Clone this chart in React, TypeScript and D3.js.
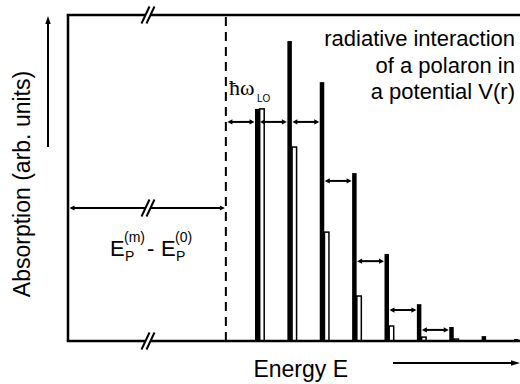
import React from "react";
import * as d3 from "d3";

// phonon replica index (n) for each line
const replicas = [0, 1, 2, 3, 4, 5, 6, 7, 8];
// thick (black) line intensities, arb. units (0..100 = frame height)
const thickValues = [71.2, 92.0, 79.4, 51.5, 26.7, 11.3, 4.3, 1.5, 0.6];
// outlined (open) line intensities
const openValues = [71.2, 59.5, 33.4, 13.8, 4.6, 1.2, 0.6, 0, 0];
// hbar*omega_LO arrows: [fromPosition, toPosition, level]
const arrowFrom = [-0.9, 0, 1, 2, 3, 4, 5];
const arrowTo = [0, 1, 2, 3, 4, 5, 6];
const arrowLevels = [67.2, 67.2, 67.2, 49.1, 24.5, 9.5, 3.4];
// position of dashed reference energy (in hbar*omega units)
const refEnergy = -0.9;
const gapLevel = 40.8;

const titleLines = ["radiative interaction", "of a polaron in", "a potential V(r)"];

const W = 520;
const H = 384;
const frameLeft = 68;
const frameTop = 15;
const frameBottom = 341;
const barW = 4.5;
const openW = 4.5;

const font = "'Liberation Sans', Arial, Helvetica, sans-serif";

function Break({ x, y }: { x: number; y: number }) {
  const h = 8.5;
  const s = 4;
  const off = 5;
  const pts = [
    [x - off / 2 - s, y + h],
    [x - off / 2 + s, y - h],
    [x + off / 2 + s, y - h],
    [x + off / 2 - s, y + h],
  ];
  return (
    <g>
      <polygon points={pts.map((p) => p.join(",")).join(" ")} fill="#fff" />
      <line x1={x - off / 2 - s} y1={y + h} x2={x - off / 2 + s} y2={y - h} stroke="#000" strokeWidth={2} />
      <line x1={x + off / 2 - s} y1={y + h} x2={x + off / 2 + s} y2={y - h} stroke="#000" strokeWidth={2} />
    </g>
  );
}

function DArrow({ x1, x2, y }: { x1: number; x2: number; y: number }) {
  const hl = 5;
  const hw = 2.6;
  return (
    <g>
      <line x1={x1 + 2} y1={y} x2={x2 - 2} y2={y} stroke="#000" strokeWidth={2} />
      <polygon points={`${x1},${y} ${x1 + hl},${y - hw} ${x1 + hl},${y + hw}`} fill="#000" />
      <polygon points={`${x2},${y} ${x2 - hl},${y - hw} ${x2 - hl},${y + hw}`} fill="#000" />
    </g>
  );
}

export default function App() {
  const x = d3.scaleLinear().domain([0, 8]).range([255, 514]);
  const y = d3.scaleLinear().domain([0, 100]).range([frameBottom, frameTop]);
  const dashX = x(refEnergy);

  return (
    <svg
      width={W}
      height={H}
      viewBox={`0 0 ${W} ${H}`}
      style={{ position: "absolute", left: 0, top: 0, background: "#fff" }}
    >
      <rect x={0} y={0} width={W} height={H} fill="#fff" />

      {/* frame */}
      <line x1={frameLeft - 1.25} y1={frameTop} x2={W} y2={frameTop} stroke="#000" strokeWidth={2.5} />
      <line x1={frameLeft} y1={frameTop} x2={frameLeft} y2={frameBottom} stroke="#000" strokeWidth={2.5} />

      {/* dashed line */}
      <line
        x1={dashX}
        y1={frameTop + 2}
        x2={dashX}
        y2={frameBottom}
        stroke="#000"
        strokeWidth={2}
        strokeDasharray="9 6"
      />

      {/* bars */}
      {replicas.map((n, i) => (
        <g key={n}>
          {openValues[i] > 0 && (
            <rect
              x={x(n) + barW + 0.2}
              y={y(openValues[i])}
              width={openW}
              height={frameBottom - y(openValues[i])}
              fill="#fff"
              stroke="#000"
              strokeWidth={1.5}
            />
          )}
          <rect
            x={x(n)}
            y={y(thickValues[i])}
            width={barW}
            height={frameBottom - y(thickValues[i])}
            fill="#000"
          />
        </g>
      ))}

      {/* bottom axis line */}
      <line x1={frameLeft - 1.25} y1={frameBottom} x2={W} y2={frameBottom} stroke="#000" strokeWidth={2.5} />

      {/* hbar omega arrows */}
      {arrowFrom.map((f, i) => {
        const x1 = f === refEnergy ? dashX + 1 : x(f) + barW;
        const x2 = x(arrowTo[i]);
        return <DArrow key={i} x1={x1 + 0.5} x2={x2 - 0.5} y={y(arrowLevels[i])} />;
      })}

      {/* gap arrow */}
      <DArrow x1={frameLeft + 1.5} x2={dashX - 1} y={y(gapLevel)} />

      {/* breaks */}
      <Break x={148} y={frameTop} />
      <Break x={148} y={y(gapLevel)} />
      <Break x={148} y={frameBottom} />

      {/* y axis arrow */}
      <line x1={48} y1={147} x2={48} y2={22} stroke="#000" strokeWidth={2} />
      <polygon points="48,16 45.3,24 50.7,24" fill="#000" />

      {/* x axis arrow */}
      <line x1={393} y1={363} x2={512} y2={363} stroke="#000" strokeWidth={2} />
      <polygon points="520,363 511,360.2 511,365.8" fill="#000" />

      {/* texts */}
      <text
        transform="translate(30,184) rotate(-90)"
        textAnchor="middle"
        fontFamily={font}
        fontSize={23}
        fill="#000"
      >
        Absorption (arb. units)
      </text>
      <text x={348} y={377} textAnchor="end" fontFamily={font} fontSize={23} fill="#000">
        Energy E
      </text>

      {titleLines.map((t, i) => (
        <text key={i} x={515} y={46 + i * 26.5} textAnchor="end" fontFamily={font} fontSize={22} fill="#000">
          {t}
        </text>
      ))}

      <text x={229} y={95} fontFamily="'Liberation Serif', 'Times New Roman', serif" fontSize={22} fill="#000">
        ħω
      </text>
      <text x={257} y={102} fontFamily={font} fontSize={10} fill="#000">
        LO
      </text>

      {/* E_P^(m) - E_P^(0) */}
      <g fontFamily={font} fill="#000">
        <text x={110} y={256} fontSize={22}>E</text>
        <text x={125} y={261} fontSize={14}>P</text>
        <text x={124} y={242} fontSize={14}>(m)</text>
        <text x={147} y={256} fontSize={22}>-</text>
        <text x={161} y={256} fontSize={22}>E</text>
        <text x={176} y={261} fontSize={14}>P</text>
        <text x={175} y={242} fontSize={14}>(0)</text>
      </g>
    </svg>
  );
}
